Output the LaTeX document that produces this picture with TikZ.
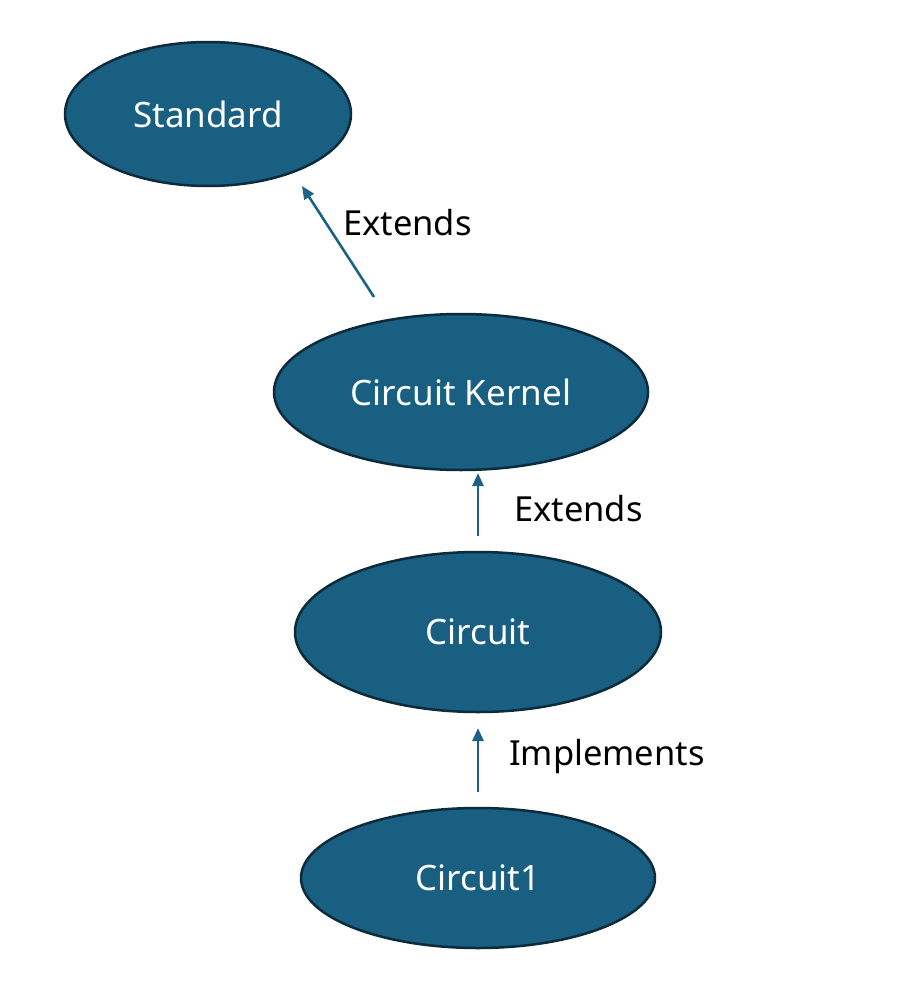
\documentclass[tikz,border=0pt]{standalone}
\usepackage{fontspec}
\setmainfont{Noto Sans}
\usetikzlibrary{shapes.geometric,arrows.meta}
\definecolor{nodefill}{HTML}{185F82}
\definecolor{nodeline}{HTML}{0C2B3B}
\definecolor{arrowcol}{HTML}{1B6284}
\tikzset{
  oval/.style={ellipse, fill=nodefill, draw=nodeline, line width=2.5pt, text=white, inner sep=0pt,
    font=\fontsize{35}{40}\selectfont},
  conn/.style={draw=arrowcol, line width=2.6pt, -{Triangle[length=13pt,width=11pt]}},
  lbl/.style={font=\fontsize{34.5}{40}\selectfont, text=black, inner sep=0pt}
}
\begin{document}
\begin{tikzpicture}[x=1pt,y=-1pt]
\useasboundingbox (0,0) rectangle (909,985);
\node[oval, minimum width=286pt, minimum height=144pt] (std) at (208,114) {Standard};
\node[oval, minimum width=374pt, minimum height=156pt] (ck) at (461,392) {Circuit Kernel};
\node[oval, minimum width=366pt, minimum height=160pt] (circ) at (478,632) {Circuit};
\node[oval, minimum width=354pt, minimum height=140pt] (c1) at (478,878) {Circuit1};
\coordinate (a1s) at (374,297);
\coordinate (a1e) at (302,186);
\coordinate (a2s) at (478,536);
\coordinate (a2e) at (478,473);
\coordinate (a3s) at (478,792);
\coordinate (a3e) at (478,728);
\draw[conn] (a1s) -- (a1e);
\draw[conn] (a2s) -- (a2e);
\draw[conn] (a3s) -- (a3e);
\node[lbl, anchor=west] (l1) at (343,223) {Extends};
\node[lbl, anchor=west] (l2) at (514,509) {Extends};
\node[lbl, anchor=west] (l3) at (509,757) {Implements};
\end{tikzpicture}
\end{document}
